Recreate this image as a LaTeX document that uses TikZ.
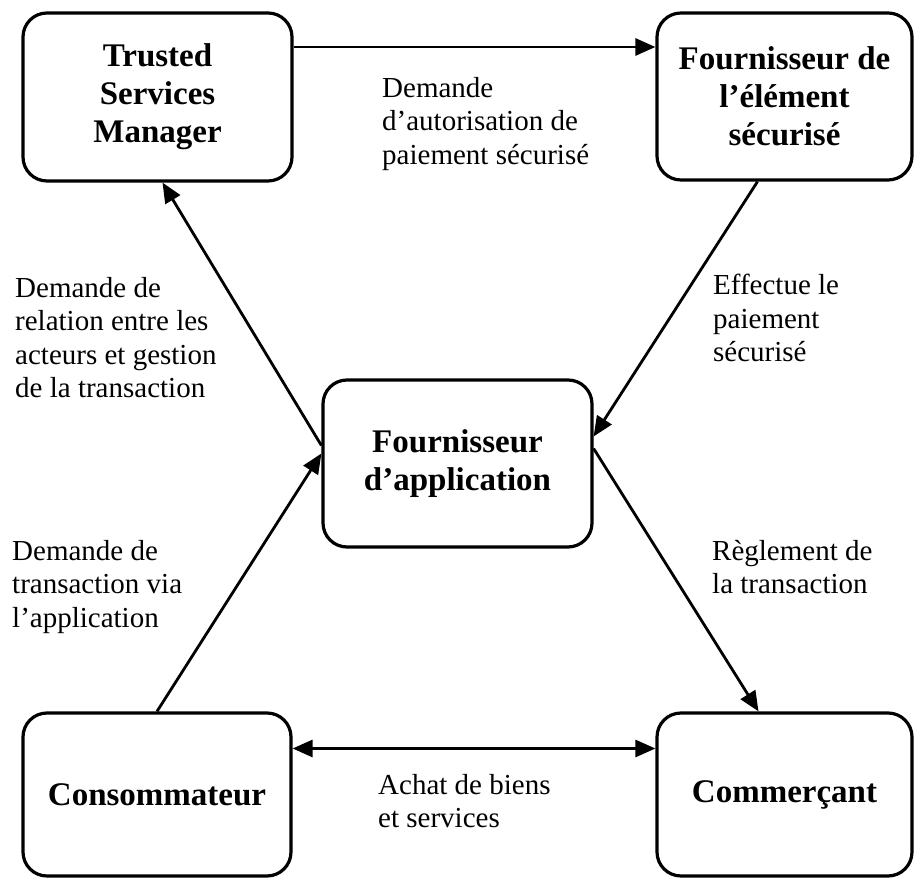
\documentclass[tikz,border=0pt]{standalone}
\usepackage{fontspec}
\setmainfont{Liberation Serif}
\usetikzlibrary{arrows.meta}

\tikzset{
  actor/.style={draw, line width=3.2pt, rounded corners=24pt, align=center, font=\fontsize{33}{38}\selectfont\bfseries},
  flow/.style={line width=2.8pt, -{Triangle[length=20pt, width=17pt]}},
  note/.style={anchor=north west, inner sep=0pt, align=left, font=\fontsize{29}{33.4}\selectfont}
}

\begin{document}
\begin{tikzpicture}[x=1pt, y=1pt]
    \useasboundingbox (0,0) rectangle (915,878);

    % Acteurs
    \node[actor, minimum width=269pt, minimum height=168pt] (tsm) at (157.5,781) {Trusted\\Services\\Manager};
    \node[actor, minimum width=255pt, minimum height=167pt] (fes) at (784.5,781.5) {Fournisseur de\\l’élément\\sécurisé};
    \node[actor, minimum width=269pt, minimum height=167pt] (app) at (457.5,414.5) {Fournisseur\\d’application};
    \node[actor, minimum width=268pt, minimum height=163pt] (con) at (157,83.5) {Consommateur};
    \node[actor, minimum width=255pt, minimum height=163pt] (com) at (784.5,83.5) {Commerçant};

    % Flux
    \draw[flow] ([yshift=50pt]tsm.east) -- ([yshift=50pt]tsm.east -| fes.west);
    \draw[flow] ([yshift=18pt]app.west) -- ([xshift=5pt]tsm.south);
    \draw[flow] ([xshift=-27pt]fes.south) -- ([yshift=27pt]app.east);
    \draw[flow] (con.north) -- ([yshift=10pt]app.west);
    \draw[flow] ([yshift=15pt]app.east) -- ([xshift=-26pt]com.north);
    \draw[flow, {Triangle[length=20pt, width=17pt]}-{Triangle[length=20pt, width=17pt]}] ([yshift=46pt]con.east) -- ([yshift=46pt]con.east -| com.west);

    % Libelles
    \node[note] (autorisation) at (382,801) {Demande\\d’autorisation de\\paiement sécurisé};
    \node[note] (paiement) at (713,604) {Effectue le\\paiement\\sécurisé};
    \node[note] (relation) at (15,601) {Demande de\\relation entre les\\acteurs et gestion\\de la transaction};
    \node[note] (demande) at (12,338) {Demande de\\transaction via\\l’application};
    \node[note] (reglement) at (712,338) {Règlement de\\la transaction};
    \node[note] (achat) at (378,104) {Achat de biens\\et services};
\end{tikzpicture}
\end{document}
